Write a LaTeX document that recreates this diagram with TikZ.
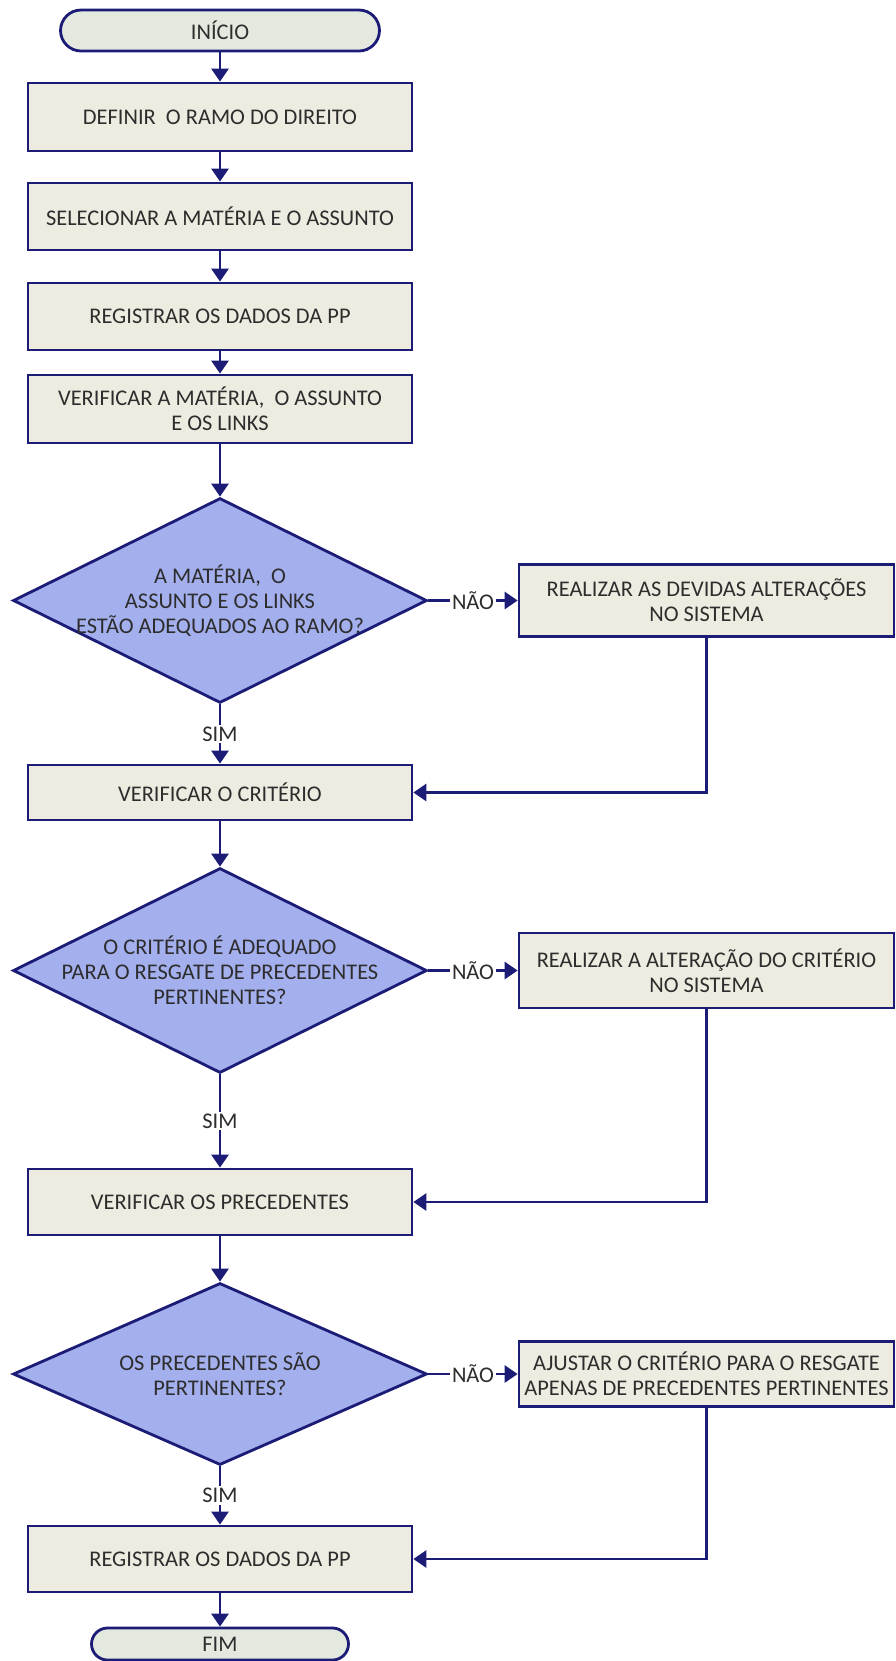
\documentclass[tikz,border=0pt]{standalone}
\usepackage{fontspec}
\setmainfont{Carlito}
\usetikzlibrary{shapes.geometric,arrows.meta}
\definecolor{azulesc}{RGB}{28,28,118}
\definecolor{bege}{RGB}{238,236,225}
\definecolor{lilas}{RGB}{164,175,238}
\definecolor{cinzaverde}{RGB}{228,233,224}
\definecolor{texto}{RGB}{45,45,45}

\begin{document}
\begin{tikzpicture}[x=0.02cm, y=-0.02cm,
  font=\fontsize{12.75}{14.3}\selectfont, text=texto,
  passo/.style={draw=azulesc, line width=1.6pt, fill=bege, minimum width=7.68cm, inner sep=0pt, align=center},
  alt/.style={draw=azulesc, line width=1.6pt, fill=bege, minimum width=7.5cm, inner sep=0pt, align=center},
  terminal/.style={draw=azulesc, line width=1.6pt, fill=cinzaverde, inner sep=0pt},
  decisao/.style={diamond, draw=azulesc, line width=1.6pt, fill=lilas, minimum width=8.28cm, minimum height=4.1cm, inner sep=0pt},
  arr/.style={draw=azulesc, line width=1.6pt, -{Triangle[length=0.26cm,width=0.34cm]}},
  rot/.style={fill=white, inner sep=1pt}]
\useasboundingbox (0,0) rectangle (896,1661);
\node[terminal, minimum width=6.38cm, minimum height=0.82cm, rounded corners=0.41cm] (ini) at (220,30.5) {INÍCIO};
\node[passo, minimum height=1.36cm] (p1) at (220,117) {DEFINIR \ O RAMO DO DIREITO};
\node[passo, minimum height=1.34cm] (p2) at (220,216.5) {SELECIONAR A MATÉRIA E O ASSUNTO};
\node[passo, minimum height=1.34cm] (p3) at (220,316.5) {REGISTRAR OS DADOS DA PP};
\node[passo, minimum height=1.36cm] (p4) at (220,409) {VERIFICAR A MATÉRIA, \ O ASSUNTO\\E OS LINKS};
\node[decisao] (d1) at (220,600.5) {};
\node[align=center] (t1) at (d1) {A MATÉRIA, \ O\\ASSUNTO E OS LINKS\\ESTÃO ADEQUADOS AO RAMO?};
\node[alt, minimum height=1.44cm] (a1) at (706.5,600.5) {REALIZAR AS DEVIDAS ALTERAÇÕES\\NO SISTEMA};
\node[passo, minimum height=1.1cm] (p5) at (220,792.5) {VERIFICAR O CRITÉRIO};
\node[decisao] (d2) at (220,970.5) {};
\node[align=center] (t2) at (d2) {O CRITÉRIO É ADEQUADO\\PARA O RESGATE DE PRECEDENTES\\PERTINENTES?};
\node[alt, minimum height=1.5cm] (a2) at (706.5,970.5) {REALIZAR A ALTERAÇÃO DO CRITÉRIO\\NO SISTEMA};
\node[passo, minimum height=1.32cm] (p6) at (220,1202) {VERIFICAR OS PRECEDENTES};
\node[decisao, minimum height=3.64cm] (d3) at (220,1374) {};
\node[align=center] (t3) at (d3) {OS PRECEDENTES SÃO\\PERTINENTES?};
\node[alt, minimum height=1.3cm] (a3) at (706.5,1374) {AJUSTAR O CRITÉRIO PARA O RESGATE\\APENAS DE PRECEDENTES PERTINENTES};
\node[passo, minimum height=1.32cm] (p7) at (220,1559) {REGISTRAR OS DADOS DA PP};
\node[terminal, minimum width=5.14cm, minimum height=0.64cm, rounded corners=0.32cm] (fim) at (220,1644) {FIM};
\foreach \a/\b in {ini/p1,p1/p2,p2/p3,p3/p4,p4/d1,p5/d2,p6/d3,p7/fim}
  \draw[arr] (\a) -- (\b);
\foreach \d/\a/\p in {d1/a1/p5,d2/a2/p6,d3/a3/p7} {
  \draw[arr] (\d) -- node[rot] {SIM} (\p);
  \draw[arr] (\d) -- node[rot] {NÃO} (\a);
  \draw[arr] (\a) |- (\p);
}
\end{tikzpicture}
\end{document}
